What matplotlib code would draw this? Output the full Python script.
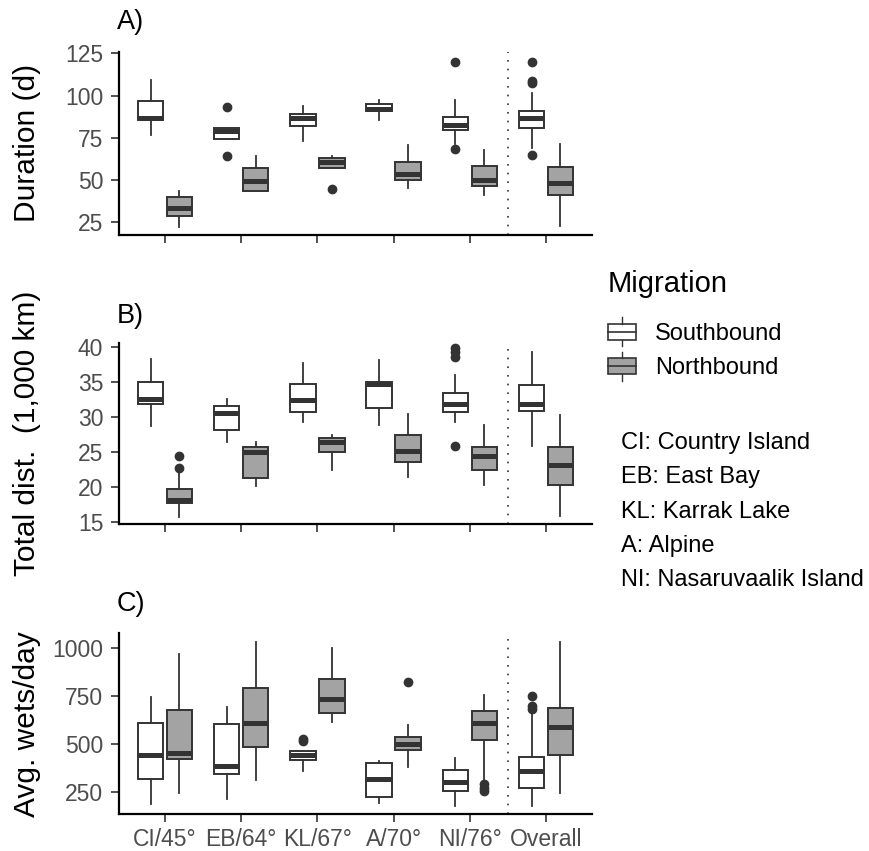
import matplotlib
matplotlib.use("Agg")
import matplotlib.pyplot as plt
from matplotlib.legend_handler import HandlerBase
from matplotlib.patches import Rectangle
from matplotlib.lines import Line2D

plt.rcParams['font.family'] = ['Liberation Sans', 'DejaVu Sans']

sites = ['CI/45°', 'EB/64°', 'KL/67°', 'A/70°', 'NI/76°', 'Overall']
site_names = ['CI: Country Island', 'EB: East Bay', 'KL: Karrak Lake',
              'A: Alpine', 'NI: Nasaruvaalik Island']
groups = ['Southbound', 'Northbound']

# ---- Panel A: Duration (d)
dur_s_lo = [76.5, 74.5, 73, 85.4, 71.5, 68.8]
dur_s_q1 = [85.5, 74.5, 82, 90.7, 79.9, 80.6]
dur_s_med = [87, 79, 86.6, 92, 82.4, 86.5]
dur_s_q3 = [96.9, 80.8, 89, 95, 87.4, 90.9]
dur_s_hi = [109, 81, 93.7, 97.3, 97.3, 101.3]
dur_s_out = [[], [93, 64.4], [], [], [120, 68.6], [120, 108.8, 107.2, 64.6]]
dur_n_lo = [22.5, 43.4, 57, 45.4, 41.4, 23]
dur_n_q1 = [29, 43.4, 57, 50, 46.8, 41.3]
dur_n_med = [33.3, 49.6, 61, 53.7, 50.3, 48]
dur_n_q3 = [40.2, 57, 63, 61, 58.3, 57.5]
dur_n_hi = [43.6, 64.4, 64.4, 71, 67.6, 71.2]
dur_n_out = [[], [], [44.6], [], [], []]

# ---- Panel B: Total distance (1,000 km)
dis_s_lo = [28.7, 26.4, 29.3, 28.9, 29.3, 25.8]
dis_s_q1 = [31.8, 28.2, 30.7, 31.35, 30.7, 30.85]
dis_s_med = [32.6, 30.5, 32.4, 34.7, 31.8, 31.8]
dis_s_q3 = [34.95, 31.6, 34.7, 34.95, 33.4, 34.5]
dis_s_hi = [38.3, 32.5, 37.7, 38.1, 36, 39.3]
dis_s_out = [[], [], [], [], [39.8, 39.3, 38.6, 25.8], []]
dis_n_lo = [15.8, 20.1, 22.5, 21.4, 20.3, 15.9]
dis_n_q1 = [17.7, 21.25, 25, 23.6, 22.5, 20.3]
dis_n_med = [18.2, 24.95, 26.4, 25.1, 24.5, 23.2]
dis_n_q3 = [19.7, 25.7, 27, 27.4, 25.7, 25.7]
dis_n_hi = [22.2, 26.4, 27.4, 30.4, 28.9, 30.3]
dis_n_out = [[24.5, 22.7], [], [], [], [], []]

# ---- Panel C: Avg. wets/day
wet_s_lo = [184, 212, 356, 191, 173, 175]
wet_s_q1 = [315, 344, 414, 224, 254, 268]
wet_s_med = [442, 382, 440, 316, 302, 360]
wet_s_q3 = [608, 603, 461, 400, 365, 433]
wet_s_hi = [747, 695, 461, 408, 424, 663]
wet_s_out = [[], [], [525, 515], [], [], [751, 698, 681]]
wet_n_lo = [242, 313, 614, 379, 313, 242]
wet_n_q1 = [420, 481, 661, 466, 518, 442]
wet_n_med = [451, 608, 734, 501, 610, 587]
wet_n_q3 = [677, 791, 838, 535, 671, 686]
wet_n_hi = [969, 1035, 1000, 598, 755, 1035]
wet_n_out = [[], [], [], [821], [289, 269, 252], []]

dur_ticks = [25, 50, 75, 100, 125]
dis_ticks = [15, 20, 25, 30, 35, 40]
wet_ticks = [250, 500, 750, 1000]

EDGE = '#333333'
FILLS = {'Southbound': '#FFFFFF', 'Northbound': '#A3A3A3'}
TICK_COL = '#4D4D4D'


def make_stats(lo, q1, med, q3, hi, out):
    return [dict(whislo=a, q1=b, med=c, q3=d, whishi=e, fliers=f)
            for a, b, c, d, e, f in zip(lo, q1, med, q3, hi, out)]


W, H = 870, 851
fig = plt.figure(figsize=(W / 100, H / 100), dpi=100)

left_px, right_px = 119.3, 591.7
panels_px = [(51.7, 235.0), (343.3, 524.0), (633.3, 814.0)]

panel_data = [
    (make_stats(dur_s_lo, dur_s_q1, dur_s_med, dur_s_q3, dur_s_hi, dur_s_out),
     make_stats(dur_n_lo, dur_n_q1, dur_n_med, dur_n_q3, dur_n_hi, dur_n_out),
     (17.5, 126.0), dur_ticks, 'Duration (d)', 'A)'),
    (make_stats(dis_s_lo, dis_s_q1, dis_s_med, dis_s_q3, dis_s_hi, dis_s_out),
     make_stats(dis_n_lo, dis_n_q1, dis_n_med, dis_n_q3, dis_n_hi, dis_n_out),
     (14.75, 40.5), dis_ticks, 'Total dist.  (1,000 km)', 'B)'),
    (make_stats(wet_s_lo, wet_s_q1, wet_s_med, wet_s_q3, wet_s_hi, wet_s_out),
     make_stats(wet_n_lo, wet_n_q1, wet_n_med, wet_n_q3, wet_n_hi, wet_n_out),
     (133, 1078), wet_ticks, 'Avg. wets/day', 'C)'),
]

positions = list(range(1, len(sites) + 1))
offset, bw = 0.19, 0.335

for i, ((top_px, bot_px), (st_s, st_n, ylim, yt, ylab, tag)) in enumerate(zip(panels_px, panel_data)):
    ax = fig.add_axes([left_px / W, 1 - bot_px / H, (right_px - left_px) / W, (bot_px - top_px) / H])
    for stats, sign, g in ((st_s, -1, 'Southbound'), (st_n, 1, 'Northbound')):
        ax.bxp(stats, positions=[p + sign * offset for p in positions], widths=bw,
               patch_artist=True, showcaps=False, manage_ticks=False,
               boxprops=dict(facecolor=FILLS[g], edgecolor=EDGE, linewidth=1.4),
               medianprops=dict(color=EDGE, linewidth=3.6, solid_capstyle='butt'),
               whiskerprops=dict(color=EDGE, linewidth=1.3),
               flierprops=dict(marker='o', markerfacecolor=EDGE, markeredgecolor=EDGE,
                               markersize=6, linestyle='none'))
    ax.axvline(5.5, color='#333333', linestyle=(0, (1, 4.2)), linewidth=1.2, zorder=0)
    ax.set_xlim(0.4, 6.6)
    ax.set_ylim(*ylim)
    ax.set_yticks(yt)
    ax.set_xticks(positions)
    if i == 2:
        ax.set_xticklabels(sites, fontsize=16.5, color=TICK_COL)
    else:
        ax.set_xticklabels([])
    ax.tick_params(axis='y', labelsize=16.5, labelcolor=TICK_COL, pad=6)
    ax.tick_params(axis='x', pad=4.7)
    ax.tick_params(length=5.5, width=1.2, color=EDGE)
    for s in ('top', 'right'):
        ax.spines[s].set_visible(False)
    for s in ('left', 'bottom'):
        ax.spines[s].set_linewidth(1.6)
        ax.spines[s].set_color('black')
    cy = (top_px + bot_px) / 2
    fig.text(27 / W, 1 - cy / H, ylab, rotation=90, ha='center', va='center', fontsize=21.5)
    tag_y = [22, 316, 604][i]
    fig.text(117 / W, 1 - tag_y / H, tag, ha='left', va='center', fontsize=19.5)


class BoxHandler(HandlerBase):
    def create_artists(self, legend, orig_handle, xdescent, ydescent, width, height, fontsize, trans):
        fc = orig_handle.get_facecolor()
        x0, y0 = -xdescent, -ydescent
        bh = height * 0.78
        by = y0 + (height - bh) / 2
        rect = Rectangle((x0, by), width, bh, facecolor=fc, edgecolor=EDGE, lw=1.2, transform=trans)
        med = Line2D([x0, x0 + width], [by + bh / 2] * 2, color=EDGE, lw=1.2, transform=trans)
        w1 = Line2D([x0 + width / 2] * 2, [by + bh, by + bh + height * 0.3], color=EDGE, lw=1.0, transform=trans)
        w2 = Line2D([x0 + width / 2] * 2, [by, by - height * 0.3], color=EDGE, lw=1.0, transform=trans)
        return [rect, med, w1, w2]


handles = [Rectangle((0, 0), 1, 1, facecolor=FILLS[g]) for g in groups]
leg = fig.legend(handles, groups, handler_map={Rectangle: BoxHandler()},
                 loc='upper left', bbox_to_anchor=(603 / W, 1 - 265 / H),
                 frameon=False, fontsize=17, title='Migration', title_fontsize=21,
                 handlelength=1.2, handleheight=1.0, handletextpad=0.8,
                 labelspacing=0.45, alignment='left', borderaxespad=0,
                 borderpad=0.2)
leg._legend_box.sep = 17

for k, name in enumerate(site_names):
    fig.text(621 / W, 1 - (443 + k * 34.3) / H, name, ha='left', va='center', fontsize=17)

fig.savefig('out.png', dpi=100)
